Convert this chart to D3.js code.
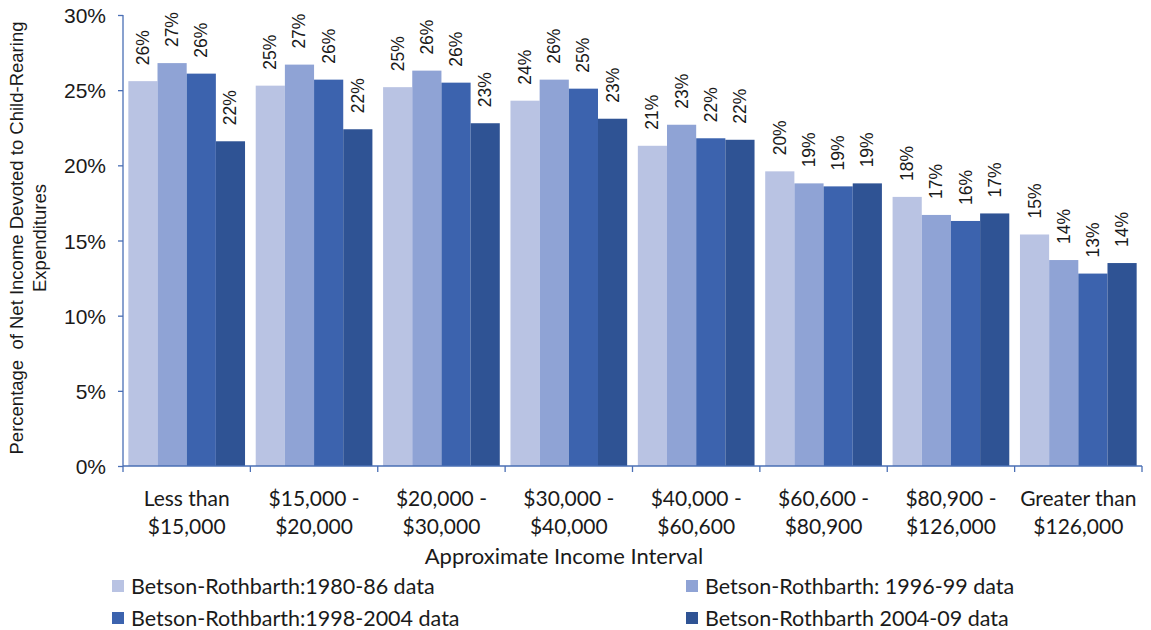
<!DOCTYPE html>
<html><head><meta charset="utf-8">
<script src="https://cdn.jsdelivr.net/npm/d3@7"></script>
<style>body{margin:0;background:#fff;} text{font-family:Lato,"Open Sans",sans-serif;fill:#1a1a1a;} .arial{font-family:"Liberation Sans",Arial,sans-serif;}</style>
</head><body><svg id="c" width="1151" height="630"></svg>
<script>
const categories = [["Less than","$15,000"],["$15,000 -","$20,000"],["$20,000 -","$30,000"],["$30,000 -","$40,000"],["$40,000 -","$60,600"],["$60,600 -","$80,900"],["$80,900 -","$126,000"],["Greater than","$126,000"]];
const seriesNames = ["Betson-Rothbarth:1980-86 data","Betson-Rothbarth: 1996-99 data","Betson-Rothbarth:1998-2004 data","Betson-Rothbarth 2004-09 data"];
const s1980 = [25.6,25.3,25.2,24.3,21.3,19.6,17.9,15.4];
const s1996 = [26.8,26.7,26.3,25.7,22.7,18.8,16.7,13.7];
const s1998 = [26.1,25.7,25.5,25.1,21.8,18.6,16.3,12.8];
const s2004 = [21.6,22.4,22.8,23.1,21.7,18.8,16.8,13.5];
const yTicks = [0,5,10,15,20,25,30];
const colors = ["#b9c3e3","#8fa3d5","#3c63ae","#2f5394"];
const series = [s1980,s1996,s1998,s2004];

const svg = d3.select("#c");
const L=123, R=1142, T=15, B=466;
const x0 = d3.scaleBand().domain(d3.range(categories.length)).range([L,R]).paddingInner(0).paddingOuter(0);
const x1 = d3.scaleBand().domain(d3.range(4)).range([0,x0.bandwidth()]).paddingOuter(0.183).paddingInner(0);
const y = d3.scaleLinear().domain([0,30]).range([B,T]);
const axisColor = "#4a6fb5";

// bars
const g = svg.append("g");
categories.forEach((c,i)=>{
  series.forEach((s,k)=>{
    g.append("rect").attr("x",x0(i)+x1(k)).attr("y",y(s[i])).attr("width",x1.bandwidth()).attr("height",B-y(s[i])).attr("fill",colors[k]);
    const lx = x0(i)+x1(k)+x1.bandwidth()/2+6;
    const ly = y(s[i])-16;
    g.append("text").attr("class","arial").attr("transform",`translate(${lx},${ly}) rotate(-90)`).attr("text-anchor","start").attr("font-size",17.5).text(Math.round(s[i])+"%");
  });
});

// y axis
const ya = svg.append("g").attr("transform",`translate(${L},0)`).call(d3.axisLeft(y).tickValues(yTicks).tickSize(5).tickFormat(d=>d+"%"));
ya.select(".domain").attr("stroke",axisColor).attr("stroke-width",1.3).attr("d",`M0,${T}V${B}`);
ya.selectAll(".tick line").attr("stroke",axisColor).attr("stroke-width",1.3);
ya.selectAll(".tick text").attr("class","arial").attr("font-size",21).attr("x",-17).attr("dy","0.36em").attr("fill","#1a1a1a");

// x axis
const xa = svg.append("g").attr("transform",`translate(0,${B})`);
xa.append("line").attr("x1",L).attr("x2",R).attr("stroke",axisColor).attr("stroke-width",1.3);
d3.range(categories.length+1).forEach(i=>{
  const xx = i<categories.length? x0(i): R;
  xa.append("line").attr("x1",xx).attr("x2",xx).attr("y1",0).attr("y2",6).attr("stroke",axisColor).attr("stroke-width",1.3);
});
categories.forEach((c,i)=>{
  const t = xa.append("text").attr("x",x0(i)+x0.bandwidth()/2).attr("y",40).attr("text-anchor","middle").attr("font-size",21);
  t.append("tspan").attr("x",x0(i)+x0.bandwidth()/2).text(c[0]);
  t.append("tspan").attr("x",x0(i)+x0.bandwidth()/2).attr("dy",28).text(c[1]);
});

// axis titles
svg.append("text").attr("x",564).attr("y",564).attr("text-anchor","middle").attr("font-size",22).text("Approximate Income Interval");
const yt = svg.append("text").attr("class","arial").attr("transform","translate(23,238) rotate(-90)").attr("text-anchor","middle").attr("font-size",18.5);
yt.append("tspan").attr("x",0).text("Percentage  of Net Income Devoted to Child-Rearing").attr("xml:space","preserve");
yt.append("tspan").attr("x",0).attr("dy",23).text("Expenditures");

// legend
const legPos = [[112,586],[686,586],[112,618],[686,618]];
seriesNames.forEach((n,k)=>{
  const [lx,ly]=legPos[k];
  svg.append("rect").attr("x",lx).attr("y",ly-6).attr("width",12).attr("height",12).attr("fill",colors[k]);
  svg.append("text").attr("x",lx+19).attr("y",ly).attr("dy","0.36em").attr("font-size",21.5).text(n);
});
</script></body></html>
